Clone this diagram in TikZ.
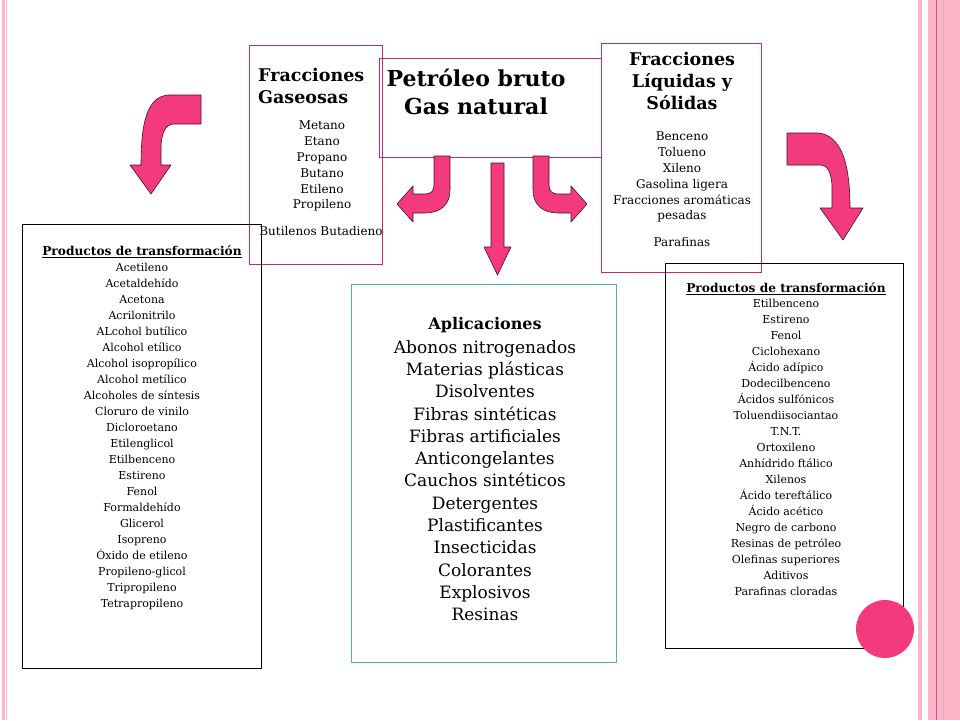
\documentclass[tikz,border=0pt]{standalone}
\usepackage{fontspec}
\setmainfont{DejaVu Serif}
\definecolor{magbox}{HTML}{C42A72}
\definecolor{arrowpink}{HTML}{F23A7D}
\definecolor{arrowedge}{HTML}{4A1028}
\definecolor{bluebox}{HTML}{4BACC6}
\definecolor{stripe}{HTML}{FBB6CA}
\definecolor{stripedark}{HTML}{D9557F}
\tikzset{
  magframe/.style={draw=magbox, line width=0.9pt},
  blackframe/.style={draw=black, line width=0.9pt},
  blueframe/.style={draw=bluebox, line width=0.9pt},
  bigarrow/.style={fill=arrowpink, draw=arrowedge, line width=0.6pt, line join=round},
  listtext/.style={align=center, inner sep=0pt, font=\fontsize{11}{16}\selectfont},
  fractext/.style={align=center, inner sep=0pt, font=\fontsize{12}{15.8}\selectfont},
  headtext/.style={align=center, inner sep=0pt, font=\bfseries\fontsize{17.5}{22}\selectfont},
  prodhead/.style={align=center, inner sep=0pt, font=\bfseries\fontsize{12.2}{16}\selectfont},
}
\begin{document}
\begin{tikzpicture}[x=1pt,y=-1pt]
\useasboundingbox (0,0) rectangle (960,720);
\fill[white] (0,0) rectangle (960,720);
% page stripes
\fill[stripe] (2,0) rectangle (4.5,720);
\fill[stripe] (6,0) rectangle (7,720);
\fill[stripe] (918,0) rectangle (922,720);
\fill[stripe] (928,0) rectangle (960,720);
\draw[stripedark, line width=0.8pt] (936,0) -- (936,720);
\draw[stripedark!50, line width=0.8pt] (943,0) -- (943,720);

% boxes
\draw[magframe] (249,45) rectangle (382,264);
\draw[magframe] (379,58) rectangle (601,157);
\draw[magframe] (601,43) rectangle (761,272);
\draw[blackframe] (22,224) rectangle (261,668);
\draw[blackframe] (665,263) rectangle (903,648);
\draw[blueframe] (351,284) rectangle (616,662);

% circle
\fill[arrowpink] (885,629) circle (29);

% texts: gaseosas
\node[headtext, align=left, anchor=north west] (gashead) at (258,68) {Fracciones\\Gaseosas};
\node[fractext, anchor=north] (gaslist) at (322,121) {Metano\\Etano\\Propano\\Butano\\Etileno\\Propileno};
\node[fractext, anchor=north] (butil) at (321,226) {Butilenos Butadieno};

% petroleo
\node[align=center, inner sep=0pt, font=\bfseries\fontsize{22}{28}\selectfont, anchor=north] (petro) at (476,69) {Petróleo bruto\\Gas natural};

% liquidas
\node[headtext, anchor=north] (liqhead) at (682,52) {Fracciones\\Líquidas y\\Sólidas};
\node[fractext, anchor=north] (liqlist) at (682,132) {Benceno\\Tolueno\\Xileno\\Gasolina ligera\\Fracciones aromáticas\\pesadas};
\node[fractext, anchor=north] (paraf) at (682,237) {Parafinas};

% left products
\node[prodhead, anchor=north] (lefthead) at (142,246) {\underline{Productos de transformación}};
\node[listtext, anchor=north] (leftlist) at (142,263) {Acetileno\\Acetaldehído\\Acetona\\Acrilonitrilo\\ALcohol butílico\\Alcohol etílico\\Alcohol isopropílico\\Alcohol metílico\\Alcoholes de síntesis\\Cloruro de vinilo\\Dicloroetano\\Etilenglicol\\Etilbenceno\\Estireno\\Fenol\\Formaldehído\\Glicerol\\Isopreno\\Óxido de etileno\\Propileno-glicol\\Tripropileno\\Tetrapropileno};

% right products
\node[prodhead, anchor=north] (righthead) at (786,283) {\underline{Productos de transformación}};
\node[listtext, anchor=north] (rightlist) at (786,299) {Etilbenceno\\Estireno\\Fenol\\Ciclohexano\\Ácido adípico\\Dodecilbenceno\\Ácidos sulfónicos\\Toluendiisociantao\\T.N.T.\\Ortoxileno\\Anhídrido ftálico\\Xilenos\\Ácido tereftálico\\Ácido acético\\Negro de carbono\\Resinas de petróleo\\Olefinas superiores\\Aditivos\\Parafinas cloradas};

% applications
\node[align=center, inner sep=0pt, font=\bfseries\fontsize{16}{22}\selectfont, anchor=north] (aphead) at (485,317) {Aplicaciones};
\node[align=center, inner sep=0pt, font=\fontsize{17}{22.3}\selectfont, anchor=north] (aplist) at (485,340) {Abonos nitrogenados\\Materias plásticas\\Disolventes\\Fibras sintéticas\\Fibras artificiales\\Anticongelantes\\Cauchos sintéticos\\Detergentes\\Plastificantes\\Insecticidas\\Colorantes\\Explosivos\\Resinas};

% arrows
% left big curved arrow
\draw[bigarrow] (201,95) -- (168,95) .. controls (148,97) and (141,120) .. (141,165) -- (130,165) -- (151,194) -- (171,165) -- (161,165) -- (161,145) .. controls (162,132) and (166,124) .. (174,124) -- (201,124) -- cycle;
% small left arrow
\draw[bigarrow] (434,156) -- (450,156) -- (450,190) .. controls (450,205) and (440,213) .. (425,213) -- (413,213) -- (413,222) -- (397,204) -- (413,186) -- (413,194) -- (425,194) .. controls (431,194) and (434,191) .. (434,185) -- cycle;
% straight down arrow
\draw[bigarrow] (491,163) -- (504,163) -- (504,247) -- (511,247) -- (497.5,275) -- (484,247) -- (491,247) -- cycle;
% small right arrow
\draw[bigarrow] (549,156) -- (533,156) -- (533,190) .. controls (533,205) and (543,213) .. (558,213) -- (571,213) -- (571,222) -- (587,204) -- (571,186) -- (571,194) -- (558,194) .. controls (552,194) and (549,191) .. (549,185) -- cycle;
% right big curved arrow
\draw[bigarrow] (787,133) -- (818,133) .. controls (840,135) and (850,160) .. (850,208) -- (863,208) -- (843,240) -- (820,208) -- (832,208) -- (832,185) .. controls (831,173) and (828,165) .. (820,165) -- (787,165) -- cycle;
\end{tikzpicture}
\end{document}
